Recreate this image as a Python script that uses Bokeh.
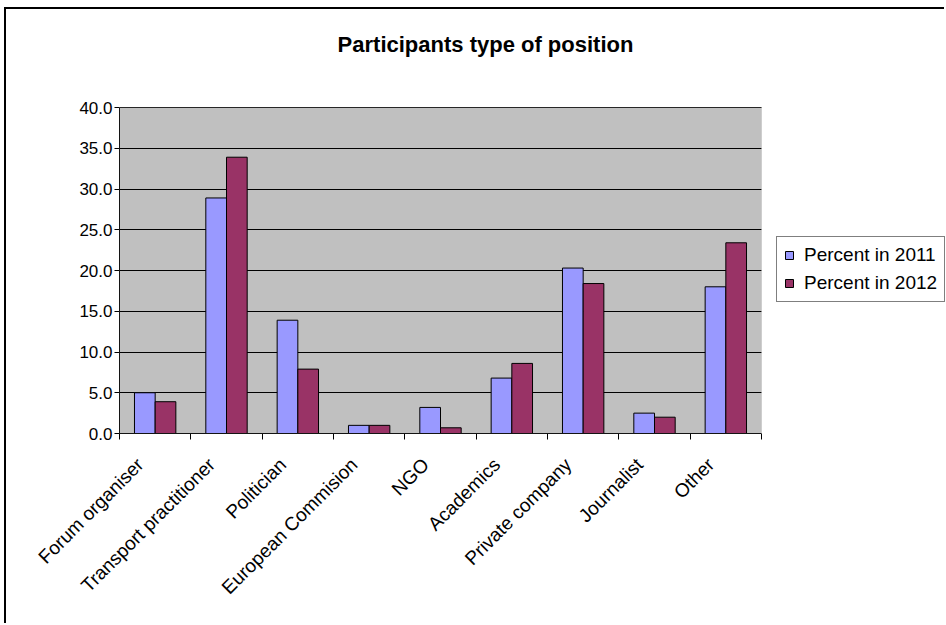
from bokeh.plotting import figure
from bokeh.models import (ColumnDataSource, FixedTicker, Legend, LegendItem, BoxAnnotation,
                          Label, Range1d, NumeralTickFormatter)
from bokeh.embed import file_html
from bokeh.resources import INLINE
import math

categories = ["Forum organiser", "Transport practitioner", "Politician", "European Commision",
              "NGO", "Academics", "Private company", "Journalist", "Other"]
pct_2011 = [5.0, 28.9, 13.9, 1.0, 3.2, 6.8, 20.3, 2.5, 18.0]
pct_2012 = [3.9, 33.9, 7.9, 1.0, 0.7, 8.6, 18.4, 2.0, 23.4]
y_ticks = [0, 5, 10, 15, 20, 25, 30, 35, 40]
series_names = ["Percent in 2011", "Percent in 2012"]
title_text = "Participants type of position"

FONT = "Liberation Sans"
OX, OY = 4, 7          # outer chart border offset on page
BWID = 2
W, H = 946 - OX - BWID, 625 - OY - BWID
CX, CY = OX + BWID, OY + BWID   # canvas origin on page
L = 119 - CX
B = H - (433 - CY)
PLOT_W = 761 - 119              # grey plot area width (px)
PLOT_H = 433 - 107              # grey plot area height (px)
Y_MAX = 40
BW = 0.29

n = len(categories)
x_end = n * (W - L) / PLOT_W            # frame extends to right edge of canvas
y_end = Y_MAX * (433 - CY) / PLOT_H     # frame extends to top edge of canvas
centers = [i + 0.5 for i in range(n)]
label_pos = [c - 0.21 for c in centers]
src = ColumnDataSource(dict(
    x1=[c - BW / 2 for c in centers],
    x2=[c + BW / 2 for c in centers],
    v1=pct_2011, v2=pct_2012,
))

p = figure(width=W, height=H, output_backend="svg", toolbar_location=None, title=None,
           x_range=Range1d(0, x_end), y_range=Range1d(0, y_end),
           min_border_left=L, min_border_right=0, min_border_top=0, min_border_bottom=B)
p.styles = {"margin-left": f"{OX}px", "margin-top": f"{OY}px",
            "border-left": f"{BWID}px solid black", "border-top": f"{BWID}px solid black"}
p.background_fill_color = "white"
p.border_fill_color = "white"
p.outline_line_color = None

# grey plot area (below grid)
p.add_layout(BoxAnnotation(left=0, right=n, bottom=0, top=Y_MAX, fill_color="#C0C0C0",
                           fill_alpha=1, line_color=None, level="image"))

r1 = p.vbar(x="x1", top="v1", width=BW, source=src, fill_color="#9999FF",
            line_color="black", line_width=1)
r2 = p.vbar(x="x2", top="v2", width=BW, source=src, fill_color="#993366",
            line_color="black", line_width=1)

# hide grid lines right of the plot area, then draw plot-area border
p.add_layout(BoxAnnotation(left=n, fill_color="white", fill_alpha=1,
                           line_color=None, level="guide"))
p.add_layout(BoxAnnotation(left=0, right=n, bottom=0, top=Y_MAX, fill_color=None,
                           line_color="#808080", line_width=1, level="guide"))

# title
p.add_layout(Label(x=485 - 119, y=433 - 44, x_units="screen", y_units="screen",
                   text=title_text, text_font=FONT, text_font_size="22px",
                   text_font_style="bold", text_color="black",
                   text_align="center", text_baseline="middle"))

# grid
p.xgrid.visible = False
p.ygrid.ticker = FixedTicker(ticks=y_ticks)
p.ygrid.grid_line_color = "black"
p.ygrid.grid_line_width = 1

# y axis
ya = p.yaxis[0]
ya.bounds = (0, Y_MAX)
ya.ticker = FixedTicker(ticks=y_ticks)
ya.formatter = NumeralTickFormatter(format="0.0")
ya.axis_line_color = "black"
ya.major_tick_out = 5
ya.major_tick_in = 0
ya.minor_tick_line_color = None
ya.major_label_standoff = 2
ya.major_label_text_font = FONT
ya.major_label_text_font_size = "17px"
ya.major_label_text_color = "black"

# x axis
xa = p.xaxis[0]
xa.bounds = (0, n)
xa.ticker = FixedTicker(ticks=label_pos, minor_ticks=list(range(n + 1)))
xa.major_label_overrides = {c: name for c, name in zip(label_pos, categories)}
xa.major_tick_in = 0
xa.major_tick_out = 0
xa.minor_tick_in = 0
xa.minor_tick_out = 6
xa.minor_tick_line_color = "black"
xa.axis_line_color = "black"
xa.major_label_orientation = math.pi / 4
xa.major_label_standoff = 22
xa.major_label_text_font = FONT
xa.major_label_text_font_size = "19px"
xa.major_label_text_color = "black"

# legend (inside the wide frame, right of the grey area)
legend = Legend(items=[LegendItem(label=series_names[0], renderers=[r1]),
                       LegendItem(label=series_names[1], renderers=[r2])],
                location=(776 - 119, 433 - 302))
legend.border_line_color = "black"
legend.border_line_width = 1
legend.background_fill_color = "white"
legend.background_fill_alpha = 1
legend.padding = 7
legend.margin = 0
legend.spacing = 6
legend.glyph_width = 10
legend.glyph_height = 10
legend.label_height = 20
legend.label_standoff = 10
legend.label_text_font = FONT
legend.label_text_font_size = "19px"
legend.label_text_color = "black"
legend.label_text_baseline = "middle"
p.add_layout(legend, "center")

open("out.html", "w").write(file_html(p, INLINE))
